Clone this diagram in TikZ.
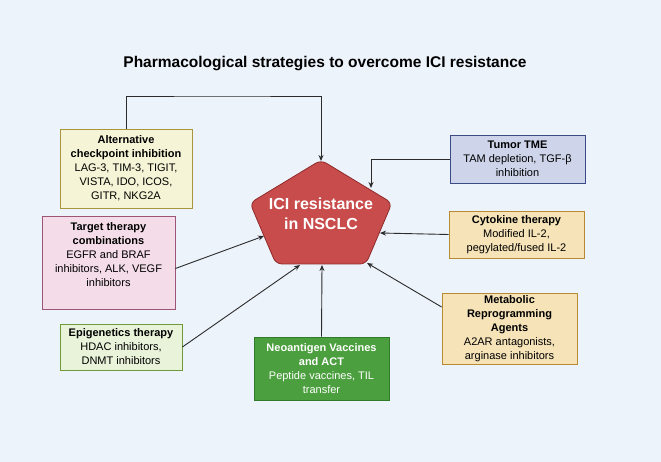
\documentclass[tikz,border=0pt]{standalone}
\usepackage{fontspec}
\setmainfont{Liberation Sans}
\usepackage{xcolor}
\usetikzlibrary{positioning, arrows.meta}

\definecolor{bgblue}{HTML}{EDF3FB}
\definecolor{altfill}{HTML}{F6F4D6}
\definecolor{altdraw}{HTML}{A8963F}
\definecolor{pinkfill}{HTML}{F4DDE8}
\definecolor{pinkdraw}{HTML}{9C5577}
\definecolor{epifill}{HTML}{E8F3DA}
\definecolor{epidraw}{HTML}{6E9A3C}
\definecolor{neofill}{HTML}{4C9F3F}
\definecolor{neodraw}{HTML}{2F7A2B}
\definecolor{tmefill}{HTML}{CED5EA}
\definecolor{tmedraw}{HTML}{3C4B86}
\definecolor{orfill}{HTML}{F6E3B8}
\definecolor{ordraw}{HTML}{B98A34}
\definecolor{icifill}{HTML}{C94C4C}
\definecolor{icidraw}{HTML}{8E2A2A}
\definecolor{linegray}{HTML}{2B2B2B}

\begin{document}
\begin{tikzpicture}[x=1pt, y=-1pt,
        strategy/.style={draw, line width=0.8pt, align=center, inner sep=2pt,
            font=\fontsize{11}{14}\selectfont},
        link/.style={-{Stealth[length=6pt, width=5pt]}, draw=linegray, line width=0.9pt}]
            \fill[bgblue] (0, 0) rectangle (661, 462);
            \useasboundingbox (0, 0) rectangle (661, 462);

            \node[font=\fontsize{15.5}{18}\selectfont\bfseries] (title) at (325, 64) {Pharmacological strategies to overcome ICI resistance};

            % central pentagon
            \draw[fill=icifill, draw=icidraw, line width=0.8pt, rounded corners=6pt]
                (321, 160) -- (392, 203) -- (366, 264) -- (276, 264) -- (250, 203) -- cycle;
            \node[text=white, align=center, font=\fontsize{16}{20}\selectfont\bfseries] (ici) at (321, 214) {ICI resistance\\in NSCLC};
            \coordinate (iciTop) at (321, 161);
            \coordinate (iciTme) at (371, 188);
            \coordinate (iciCyto) at (380, 233);
            \coordinate (iciMeta) at (367, 263);
            \coordinate (iciNeo) at (322, 265);
            \coordinate (iciEpi) at (300, 265);
            \coordinate (iciTarget) at (264, 236);

            \node[strategy, fill=altfill, draw=altdraw, minimum width=132pt, minimum height=79pt] (alt) at (126, 168.5) {\textbf{Alternative}\\\textbf{checkpoint inhibition}\\LAG-3, TIM-3, TIGIT,\\VISTA, IDO, ICOS,\\GITR, NKG2A};
            \node[strategy, fill=pinkfill, draw=pinkdraw, minimum width=133pt, minimum height=93pt] (target) at (108.5, 262.5) {\textbf{Target therapy}\\\textbf{combinations}\\EGFR and BRAF\\inhibitors, ALK, VEGF\\inhibitors\\[2pt]};
            \node[strategy, fill=epifill, draw=epidraw, minimum width=122pt, minimum height=46pt] (epi) at (121, 347) {\textbf{Epigenetics therapy}\\HDAC inhibitors,\\DNMT inhibitors};
            \node[strategy, fill=neofill, draw=neodraw, text=white, minimum width=135pt, minimum height=63pt] (neo) at (321.5, 368.5) {\textbf{Neoantigen Vaccines}\\\textbf{and ACT}\\Peptide vaccines, TIL\\transfer};
            \node[strategy, fill=tmefill, draw=tmedraw, minimum width=135pt, minimum height=48pt] (tme) at (517.5, 159) {\textbf{Tumor TME}\\TAM depletion, TGF-β\\inhibition};
            \node[strategy, fill=orfill, draw=ordraw, minimum width=135pt, minimum height=47pt] (cyto) at (516.5, 234.5) {\textbf{Cytokine therapy}\\Modified IL-2,\\pegylated/fused IL-2};
            \node[strategy, fill=orfill, draw=ordraw, minimum width=135pt, minimum height=70pt] (meta) at (509.5, 329) {\textbf{Metabolic}\\\textbf{Reprogramming}\\\textbf{Agents}\\A2AR antagonists,\\arginase inhibitors};

            \draw[link] (alt.north) |- (221, 96) -| (iciTop);
            \draw[link] (tme.west) -| (iciTme);
            \draw[link] (cyto.west) -- (iciCyto);
            \draw[link] ([yshift=22pt]meta.west) -- (iciMeta);
            \draw[link] (neo.north) -- (iciNeo);
            \draw[link] (epi.east) -- (iciEpi);
            \draw[link] ([yshift=-6pt]target.east) -- (iciTarget);
        \end{tikzpicture}
\end{document}
